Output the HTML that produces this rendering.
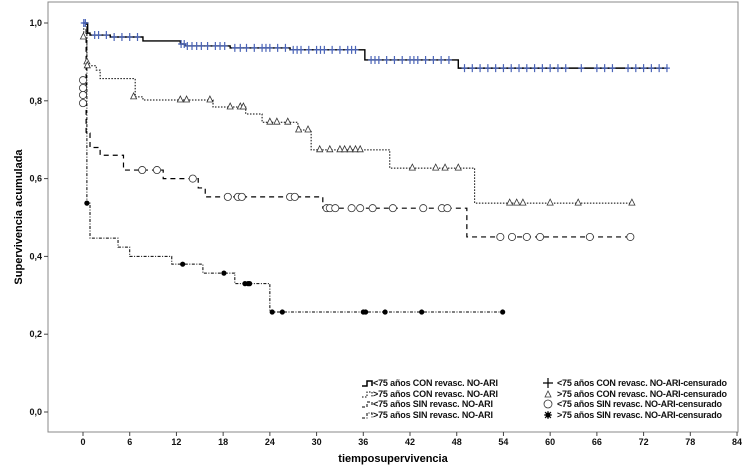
<!DOCTYPE html>
<html><head><meta charset="utf-8"><style>
body{margin:0;background:#fff;}
svg{display:block;font-family:"Liberation Sans",Arial,sans-serif;}
</style></head><body>
<svg id="chart" width="750" height="474" viewBox="0 0 750 474">
<rect x="48" y="2" width="690" height="430" fill="#fff" stroke="#888" stroke-width="1"/>
<g id="axes"></g>
<g id="series"></g>
<text x="22" y="217" font-size="11" font-weight="bold" text-anchor="middle" transform="rotate(-90 22 217)">Supervivencia acumulada</text>
<text x="393" y="462" font-size="11" font-weight="bold" text-anchor="middle">tiemposupervivencia</text>
<g font-size="9" fill="#111" font-weight="bold">
 <g><path d="M362,386 h5 v-5 h5 v5" fill="none" stroke="#000" stroke-width="1.5"/><text x="373" y="386" textLength="125">&lt;75 años CON revasc. NO-ARI</text></g>
 <g><path d="M362,397 h5 v-5 h5 v5" fill="none" stroke="#000" stroke-width="1" stroke-dasharray="1.5,1.5"/><text x="373" y="397" textLength="125">&gt;75 años CON revasc. NO-ARI</text></g>
 <g><path d="M362,407 h5 v-5 h5 v5" fill="none" stroke="#000" stroke-width="1" stroke-dasharray="3,2"/><text x="373" y="407" textLength="120">&lt;75 años SIN revasc. NO-ARI</text></g>
 <g><path d="M362,418 h5 v-5 h5 v5" fill="none" stroke="#000" stroke-width="1" stroke-dasharray="3,1.5,1,1.5"/><text x="373" y="418" textLength="120">&gt;75 años SIN revasc. NO-ARI</text></g>
 <g><path d="M543,383 h10 M548,378 v10" stroke="#000" stroke-width="1.2"/><text x="557" y="386" textLength="170">&lt;75 años CON revasc. NO-ARI-censurado</text></g>
 <g><path d="M545,397 l3,-6 l3,6 z" fill="none" stroke="#333" stroke-width="0.8"/><text x="557" y="397" textLength="170">&gt;75 años CON revasc. NO-ARI-censurado</text></g>
 <g><circle cx="548" cy="404" r="4" fill="none" stroke="#333" stroke-width="0.8"/><text x="557" y="407" textLength="165">&lt;75 años SIN revasc. NO-ARI-censurado</text></g>
 <g><circle cx="548" cy="415" r="2.6" fill="#000"/><path d="M544,415 h8 M548,411 v8 M545,412 l6,6 M551,412 l-6,6" stroke="#000" stroke-width="1"/><text x="557" y="418" textLength="165">&gt;75 años SIN revasc. NO-ARI-censurado</text></g>
</g>
</svg>
<script>
const xTicks=[0,6,12,18,24,30,36,42,48,54,60,66,72,78,84];
const yTicks=[0,0.2,0.4,0.6,0.8,1.0];
const yTickLabels=["0,0","0,2","0,4","0,6","0,8","1,0"];
// series 1: <75 CON
const s1Times=[0,0.6,0.9,3.5,7.7,12.5,13.1,18.9,26.6,36.2,48.2,75.1];
const s1Surv=[1.0,0.974,0.969,0.964,0.954,0.946,0.941,0.936,0.931,0.905,0.884,0.884];
const s1Cens=[0.1,0.3,1.5,2,3,4,5,6,7,12.6,13,13.4,14,14.6,15.2,16,17,17.6,18.2,19.5,20.2,21,22,23,23.5,24,25,26,27,27.5,28,29,30,30.5,31,32,33,34,34.5,35,37,37.5,38,39,40,41,42,42.5,43,44,45,46,47,49,50,51,52,53,54,55,56,57,58,59,60,61,62,64,66,67,68,70,71,72,73,74,75];
// series 2: >75 CON
const s2Times=[0,0.1,0.5,0.6,1.7,2.2,6.7,7.7,16.7,20.9,23.0,27.6,29.3,39.4,50.3,70.6];
const s2Surv=[1.0,0.964,0.90,0.89,0.879,0.857,0.81,0.802,0.784,0.766,0.745,0.725,0.674,0.627,0.537,0.537];
const s2Cens=[0.05,0.5,0.55,6.5,12.5,13.3,16.3,18.9,20.2,20.6,24,24.9,26.3,27.7,28.9,30.4,31.7,33,33.6,34.3,35,35.6,42.3,45.3,46.5,48.2,54.8,55.7,56.5,60,63.6,70.5];
const s2CensSurv=[0.964,0.90,0.89,0.81,0.802,0.802,0.802,0.784,0.784,0.784,0.745,0.745,0.745,0.725,0.725,0.674,0.674,0.674,0.674,0.674,0.674,0.674,0.627,0.627,0.627,0.627,0.537,0.537,0.537,0.537,0.537,0.537];
// series 3: <75 SIN
const s3Times=[0,0.4,0.9,2.2,5.2,10.3,14.8,15.7,30.8,49.3,70.5];
const s3Surv=[1.0,0.717,0.68,0.66,0.622,0.60,0.576,0.553,0.524,0.45,0.45];
const s3Cens=[0,0,0,0,7.6,9.5,14.1,18.6,19.9,20.4,26.6,27.2,31.3,31.7,32.4,34.5,35.6,37.2,39.8,43.7,46.1,46.8,53.6,55.1,57,58.7,65.1,70.3];
const s3CensSurv=[0.853,0.833,0.815,0.794,0.622,0.622,0.60,0.553,0.553,0.553,0.553,0.553,0.524,0.524,0.524,0.524,0.524,0.524,0.524,0.524,0.524,0.524,0.45,0.45,0.45,0.45,0.45,0.45];
// series 4: >75 SIN
const s4Times=[0,0.5,0.9,4.5,6.0,11.4,15.4,19.5,24.0,54.2];
const s4Surv=[1.0,0.537,0.447,0.424,0.40,0.38,0.357,0.33,0.257,0.257];
const s4Cens=[0.5,12.8,18.1,20.8,21.2,21.4,24.3,25.6,36,36.3,38.8,43.5,53.9];

const NS="http://www.w3.org/2000/svg";
const X0=83,XPER=7.786,Y0=412,YSPAN=389;
function xs(t){return X0+t*XPER;}
function ys(v){return Y0-v*YSPAN;}
function mk(tag,attrs,parent){const e=document.createElementNS(NS,tag);for(const k in attrs)e.setAttribute(k,attrs[k]);parent.appendChild(e);return e;}
const axes=document.getElementById('axes');
xTicks.forEach(t=>{
  const g=mk('g',{},axes);
  
  
  mk('line',{x1:xs(t),x2:xs(t),y1:432,y2:436,stroke:'#444'},g);
  const tx=mk('text',{x:xs(t),y:445,'font-size':9,'font-weight':'bold','text-anchor':'middle',fill:'#111'},g);tx.textContent=t;
});
yTicks.forEach((v,i)=>{
  const g=mk('g',{},axes);
  
  
  mk('line',{x1:44,x2:48,y1:ys(v),y2:ys(v),stroke:'#444'},g);
  const tx=mk('text',{x:42,y:ys(v)+3,'font-size':9,'font-weight':'bold','text-anchor':'end',fill:'#111'},g);tx.textContent=yTickLabels[i];
});
const ser=document.getElementById('series');
function stepPath(T,S){let d='M'+xs(T[0])+','+ys(S[0]);for(let i=1;i<T.length;i++){d+=' H'+xs(T[i])+' V'+ys(S[i]);}return d;}
function survAt(T,S,t){let v=S[0];for(let i=0;i<T.length;i++){if(T[i]<=t)v=S[i];}return v;}
function line(T,S,dash,w,name){
  const p=mk('path',{d:stepPath(T,S),fill:'none',stroke:'#000','stroke-width':w},ser);
  if(dash)p.setAttribute('stroke-dasharray',dash);
  
  
}
line(s1Times,s1Surv,null,1.4,'line-lt75-con');
line(s2Times,s2Surv,'1.5,1.5',1,'line-gt75-con');
line(s3Times,s3Surv,'5,4',1.2,'line-lt75-sin');
line(s4Times,s4Surv,'3,1.5,1,1.5',1,'line-gt75-sin');
s1Cens.forEach(t=>{
  const x=xs(t),y=ys(survAt(s1Times,s1Surv,t));
  const p=mk('path',{d:`M${x-3},${y} h6 M${x},${y-4} v8`,stroke:'#4a64b8','stroke-width':1.2},ser);
  
  
});
s2Cens.forEach((t,i)=>{
  const x=xs(t),y=ys(s2CensSurv[i]);
  const p=mk('path',{d:`M${x-3},${y+2} L${x},${y-4} L${x+3},${y+2} Z`,fill:'#fff',stroke:'#333','stroke-width':0.8},ser);
  
  
});
s3Cens.forEach((t,i)=>{
  const c=mk('circle',{cx:xs(t),cy:ys(s3CensSurv[i]),r:3.6,fill:'#fff',stroke:'#333','stroke-width':0.8},ser);
  
  
});
s4Cens.forEach(t=>{
  const x=xs(t),y=ys(survAt(s4Times,s4Surv,t));
  const c=mk('circle',{cx:x,cy:y,r:2.6,fill:'#000'},ser);
  
  
});
</script>
</body></html>
